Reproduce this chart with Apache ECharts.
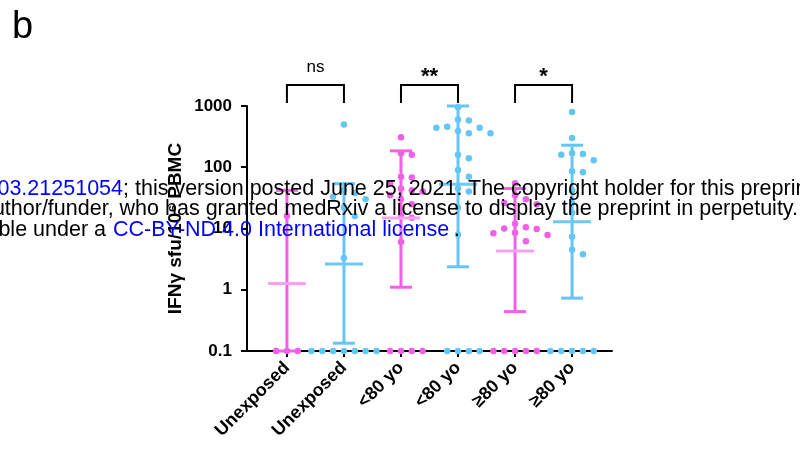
<!DOCTYPE html>
<html><head><meta charset="utf-8">
<script src="https://cdn.jsdelivr.net/npm/echarts@6/dist/echarts.min.js"></script>
<style>html,body{margin:0;padding:0;background:#fff}#c{width:800px;height:452px}</style>
</head><body><div id="c"></div>
<script>
// ---- data ----
const categories = ['Unexposed', 'Unexposed', '<80 yo', '<80 yo', '≥80 yo', '≥80 yo'];
const unexposedPink = [16, 0.1, 0.1, 0.1];
const unexposedBlue = [500, 42, 38, 33, 30, 22, 16, 3.3, 0.1, 0.1, 0.1, 0.1, 0.1, 0.1, 0.1];
const under80Pink = [310, 170, 160, 70, 68, 55, 45, 42, 40, 35, 30, 25, 16, 15, 6, 0.1, 0.1, 0.1, 0.1];
const under80Blue = [950, 600, 580, 460, 440, 440, 390, 360, 360, 160, 140, 90, 70, 45, 40, 22, 8, 0.1, 0.1, 0.1, 0.1];
const over80Pink = [55, 35, 30, 26, 25, 12, 10.5, 10, 9.8, 8.5, 8.4, 7.8, 6.2, 0.1, 0.1, 0.1, 0.1, 0.1];
const over80Blue = [800, 300, 170, 165, 160, 130, 86, 83, 42, 26, 18, 7.3, 4.5, 3.8, 0.1, 0.1, 0.1, 0.1, 0.1];
const means = [1.27, 2.63, 14.8, 53, 4.3, 12.9];
const lows = [0.1, 0.134, 1.1, 2.37, 0.44, 0.73];
const highs = [42, 54, 185, 1000, 45, 229];
const sigPairs = [[1, 2], [3, 4], [5, 6]];
const sigLabels = ['ns', '**', '*'];
const yTicks = [0.1, 1, 10, 100, 1000];

const groups = [unexposedPink, unexposedBlue, under80Pink, under80Blue, over80Pink, over80Blue];
const PINK = '#f25fe9', PINK_MEAN = '#f6a3ef', BLUE = '#64c6f5', BLUE_MEAN = '#6cc9f5';

// simple beeswarm layout (offsets in x-axis units)
const PX_X = 57, PX_DEC = 61.3, STEP = 0.19;
function swarm(vals, cx) {
  const placed = [], out = [];
  const sorted = vals.slice().sort((a, b) => b - a);
  for (const v of sorted) {
    const ly = Math.log10(v) * PX_DEC;
    for (let k = 0; k < 60; k++) {
      const off = (k === 0 ? 0 : (k % 2 ? 1 : -1) * Math.ceil(k / 2)) * STEP;
      const ok = placed.every(p => Math.hypot((p.o - off) * PX_X, p.ly - ly) >= 9);
      if (ok) { placed.push({o: off, ly}); out.push([cx + off, v]); break; }
    }
  }
  return out;
}

const chart = echarts.init(document.getElementById('c'));
const font = '"Liberation Sans", Arial, Helvetica, sans-serif';

const scatterSeries = groups.map((g, i) => ({
  type: 'scatter',
  data: swarm(g, i + 1),
  symbolSize: 6.5,
  itemStyle: {color: i % 2 === 0 ? PINK : BLUE, opacity: 1},
  clip: false,
  z: 2,
  silent: true
}));

const errSeries = {
  type: 'custom',
  clip: false,
  z: 3,
  silent: true,
  data: means.map((m, i) => [i + 1, m, lows[i], highs[i]]),
  renderItem: (params, api) => {
    const x = api.value(0);
    const i = Math.round(x) - 1;
    const col = i % 2 === 0 ? PINK : BLUE;
    const mcol = i % 2 === 0 ? PINK_MEAN : BLUE_MEAN;
    const m = api.coord([x, api.value(1)]);
    const lo = api.coord([x, api.value(2)]);
    const hi = api.coord([x, api.value(3)]);
    const st = {stroke: col, lineWidth: 3};
    return {
      type: 'group',
      children: [
        {type: 'line', shape: {x1: lo[0], y1: lo[1], x2: hi[0], y2: hi[1]}, style: st},
        {type: 'line', shape: {x1: lo[0] - 11, y1: lo[1], x2: lo[0] + 11, y2: lo[1]}, style: st},
        {type: 'line', shape: {x1: hi[0] - 11, y1: hi[1], x2: hi[0] + 11, y2: hi[1]}, style: st},
        {type: 'line', shape: {x1: m[0] - 19, y1: m[1], x2: m[0] + 19, y2: m[1]}, style: {stroke: mcol, lineWidth: 3}}
      ]
    };
  }
};

const sigSeries = {
  type: 'custom',
  clip: false,
  z: 4,
  silent: true,
  data: sigPairs.map((p, i) => [p[0], p[1], i]),
  renderItem: (params, api) => {
    const a = api.coord([api.value(0), 1000]);
    const b = api.coord([api.value(1), 1000]);
    const lab = sigLabels[api.value(2)];
    const top = a[1] - 21, leg = a[1] - 3;
    const isStar = lab.indexOf('*') >= 0;
    return {
      type: 'group',
      children: [
        {type: 'polyline', shape: {points: [[a[0], leg], [a[0], top], [b[0], top], [b[0], leg]]},
         style: {stroke: '#000', lineWidth: 2, fill: null}},
        {type: 'text', x: (a[0] + b[0]) / 2, y: isStar ? top + 3 : top - 9,
         style: {text: lab, fill: '#000', font: (isStar ? 'bold 22px ' : '17px ') + font,
                 align: 'center', verticalAlign: 'bottom'}}
      ]
    };
  }
};

const wmY = [189, 209.5, 230];
const wmFont = '21.5px ' + font;
const watermark = [
  {type: 'text', x: 123, y: wmY[0], style: {text: 'https://doi.org/10.1101/2021.03.03.21251054', fill: '#0000ff', font: wmFont, align: 'right', verticalAlign: 'middle'}},
  {type: 'text', x: 123, y: wmY[0], style: {text: '; this version posted June 25, 2021.', fill: '#000', font: wmFont, align: 'left', verticalAlign: 'middle'}},
  {type: 'text', x: 468, y: wmY[0], style: {text: 'The copyright holder for this preprint', fill: '#000', font: wmFont, align: 'left', verticalAlign: 'middle'}},
  {type: 'text', x: 798, y: wmY[1], style: {text: '(which was not certified by peer review) is the author/funder, who has granted medRxiv a license to display the preprint in perpetuity.', fill: '#000', font: wmFont, align: 'right', verticalAlign: 'middle'}},
  {type: 'text', x: 106, y: wmY[2], style: {text: 'It is made available under a', fill: '#000', font: wmFont, align: 'right', verticalAlign: 'middle'}},
  {type: 'text', x: 113, y: wmY[2], style: {text: 'CC-BY-ND 4.0 International license', fill: '#0000ff', font: wmFont, align: 'left', verticalAlign: 'middle'}},
  {type: 'text', x: 454, y: wmY[2], style: {text: '.', fill: '#000', font: wmFont, align: 'left', verticalAlign: 'middle'}}
].map(g => Object.assign(g, {z: 100, silent: true}));

chart.setOption({
  animation: false,
  backgroundColor: '#fff',
  grid: {left: 247, right: 188, top: 106, bottom: 101, containLabel: false},
  xAxis: {
    type: 'value', min: 0.3, max: 6.7,
    splitLine: {show: false},
    axisLine: {show: true, onZero: false, lineStyle: {color: '#000', width: 2}},
    axisTick: {show: true, customValues: [1, 2, 3, 4, 5, 6], length: 6, lineStyle: {color: '#000', width: 2}},
    axisLabel: {customValues: [1, 2, 3, 4, 5, 6], formatter: v => categories[Math.round(v) - 1],
                rotate: 45, margin: 14, color: '#000', fontWeight: 'bold', fontSize: 18, fontFamily: font}
  },
  yAxis: {
    type: 'log', logBase: 10, min: 0.1, max: 1000,
    splitLine: {show: false},
    minorTick: {show: false},
    axisLine: {show: true, lineStyle: {color: '#000', width: 2}},
    axisTick: {show: true, length: 6, lineStyle: {color: '#000', width: 2}},
    axisLabel: {color: '#000', fontWeight: 'bold', fontSize: 17, fontFamily: font, margin: 15,
                formatter: v => { const t = yTicks.find(y => Math.abs(Math.log10(y) - Math.log10(v)) < 1e-6); return t === undefined ? '' : String(t); }},
    name: 'IFNγ sfu/10⁶ PBMC', nameLocation: 'middle', nameRotate: 90, nameGap: 62,
    nameTextStyle: {color: '#000', fontWeight: 'bold', fontSize: 19, fontFamily: font}
  },
  graphic: [{type: 'text', left: 12, top: 9, style: {text: 'b', fill: '#000', font: '38px ' + font}, z: 100}].concat(watermark),
  series: scatterSeries.concat([errSeries, sigSeries])
});
</script>
</body></html>
